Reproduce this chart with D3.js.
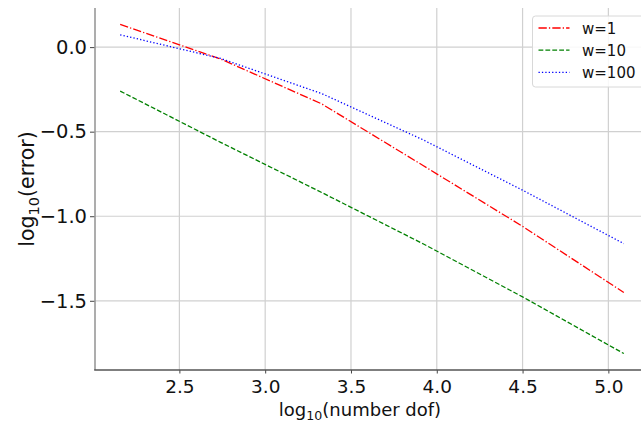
<!DOCTYPE html>
<html lang="en">

<head>
    <meta charset="utf-8">
    <title>log10(error) vs log10(number dof)</title>
    <script src="https://d3js.org/d3.v7.min.js"></script>
    <style>
        body {
            margin: 0;
            background: white;
        }

        text {
            font-family: "DejaVu Sans", sans-serif;
            fill: #111;
        }

        .grid {
            stroke: #d0d0d0;
            stroke-width: 1.2;
        }
    </style>
</head>

<body>

    <script type="text/javascript">

        //Consts/global variables
        const w = 641;
        const h = 429;
        const plotLeft = 95, plotRight = 649, plotTop = 8, plotBottom = 370;

        // data - log10 of number of dof and log10 of error for each w
        const logDof = [2.155, 2.74, 3.33, 3.92, 4.50, 5.09];
        const errW1 = [0.134, -0.07, -0.336, -0.70, -1.06, -1.451];
        const errW10 = [-0.260, -0.563, -0.860, -1.163, -1.477, -1.812];
        const errW100 = [0.073, -0.067, -0.275, -0.548, -0.846, -1.162];

        const xTicks = [2.5, 3.0, 3.5, 4.0, 4.5, 5.0];
        const yTicks = [0.0, -0.5, -1.0, -1.5];

        const seriesNames = ["w=1", "w=10", "w=100"];
        const seriesColors = ["#ff0000", "#008000", "#0000ff"];
        const seriesDash = ["8.3,2.1,1.3,2.1", "4.8,2.1", "1.3,2.1"];

        const series = [errW1, errW10, errW100].map((vals, i) => ({
            name: seriesNames[i],
            color: seriesColors[i],
            dash: seriesDash[i],
            points: vals.map((v, j) => ({ x: logDof[j], y: v }))
        }));

        // matplotlib style 5% margins around the data
        const xExt = d3.extent(logDof);
        const allY = errW1.concat(errW10, errW100);
        const yExt = d3.extent(allY);
        const xPad = (xExt[1] - xExt[0]) * 0.05;
        const yPad = (yExt[1] - yExt[0]) * 0.05;

        //scales
        const xScale = d3.scaleLinear()
            .domain([xExt[0] - xPad, xExt[1] + xPad])
            .range([plotLeft, plotRight]);

        const yScale = d3.scaleLinear()
            .domain([yExt[0] - yPad, yExt[1] + yPad])
            .range([plotBottom, plotTop]);

        //SVG
        const svg = d3.select("body")
            .append("svg")
            .attr("width", w)
            .attr("height", h);

        //grid
        svg.append("g")
            .selectAll("line")
            .data(xTicks)
            .join("line")
            .attr("class", "grid")
            .attr("x1", d => xScale(d))
            .attr("x2", d => xScale(d))
            .attr("y1", plotTop)
            .attr("y2", plotBottom);

        svg.append("g")
            .selectAll("line")
            .data(yTicks)
            .join("line")
            .attr("class", "grid")
            .attr("x1", plotLeft)
            .attr("x2", plotRight)
            .attr("y1", d => yScale(d))
            .attr("y2", d => yScale(d));

        //bottom axis
        const bottomAxis = d3.axisBottom(xScale)
            .tickValues(xTicks)
            .tickSize(3.5)
            .tickPadding(6.5)
            .tickFormat(d3.format(".1f"));

        const gx = svg.append("g")
            .attr("transform", "translate(0," + plotBottom + ")")
            .call(bottomAxis);

        //left axis
        const leftAxis = d3.axisLeft(yScale)
            .tickValues(yTicks)
            .tickSize(5)
            .tickPadding(3)
            .tickFormat(d => d3.format(".1f")(d).replace("-", "\u2212"));

        const gy = svg.append("g")
            .attr("transform", "translate(" + plotLeft + ",0)")
            .call(leftAxis);

        [gx, gy].forEach(g => {
            g.select(".domain").remove();
            g.selectAll(".tick line").attr("stroke", "#444").attr("stroke-width", 1);
            g.selectAll(".tick text")
                .attr("font-family", "DejaVu Sans")
                .attr("fill", "#111");
        });
        gx.selectAll(".tick text").attr("font-size", 18.5);
        gy.selectAll(".tick text").attr("font-size", 19.5);

        //spines (no top/right)
        svg.append("line")
            .attr("x1", plotLeft).attr("x2", plotLeft)
            .attr("y1", plotTop).attr("y2", plotBottom)
            .attr("stroke", "#999")
            .attr("stroke-width", 1.6);

        svg.append("line")
            .attr("x1", plotLeft - 0.8).attr("x2", plotRight)
            .attr("y1", plotBottom).attr("y2", plotBottom)
            .attr("stroke", "#555")
            .attr("stroke-width", 1.4);

        //lines
        const coords = d3.line()
            .x(d => xScale(d.x))
            .y(d => yScale(d.y));

        svg.append("g")
            .selectAll("path")
            .data(series)
            .join("path")
            .attr("d", d => coords(d.points))
            .attr("fill", "none")
            .attr("stroke", d => d.color)
            .attr("stroke-width", 1.3)
            .attr("stroke-dasharray", d => d.dash);

        //x-axis label
        const xLabel = svg.append("text")
            .attr("x", 360)
            .attr("y", 416)
            .attr("text-anchor", "middle")
            .attr("font-size", 18);
        xLabel.append("tspan").text("log");
        xLabel.append("tspan").attr("font-size", 12.6).attr("dy", 4).text("10");
        xLabel.append("tspan").attr("dy", -4).text("(number dof)");

        //y-axis label
        const yLabel = svg.append("text")
            .attr("transform", "translate(34,189) rotate(-90)")
            .attr("text-anchor", "middle")
            .attr("font-size", 20.5);
        yLabel.append("tspan").text("log");
        yLabel.append("tspan").attr("font-size", 14.5).attr("dy", 4.5).text("10");
        yLabel.append("tspan").attr("dy", -4.5).text("(error)");

        //legend
        const legend = svg.append("g");
        legend.append("rect")
            .attr("x", 532.5)
            .attr("y", 16)
            .attr("width", 112)
            .attr("height", 71)
            .attr("rx", 3)
            .attr("fill", "white")
            .attr("fill-opacity", 0.85)
            .attr("stroke", "#d8d8d8")
            .attr("stroke-width", 1);

        const rows = legend.selectAll(".row")
            .data(series)
            .join("g")
            .attr("class", "row")
            .attr("transform", (d, i) => "translate(0," + (28 + i * 22.2) + ")");

        rows.append("line")
            .attr("x1", 538.5)
            .attr("x2", 569.5)
            .attr("stroke", d => d.color)
            .attr("stroke-width", 1.3)
            .attr("stroke-dasharray", d => d.dash);

        rows.append("text")
            .attr("x", 582)
            .attr("y", 5.5)
            .attr("font-size", 15)
            .text(d => d.name);

    </script>
</body>

</html>
